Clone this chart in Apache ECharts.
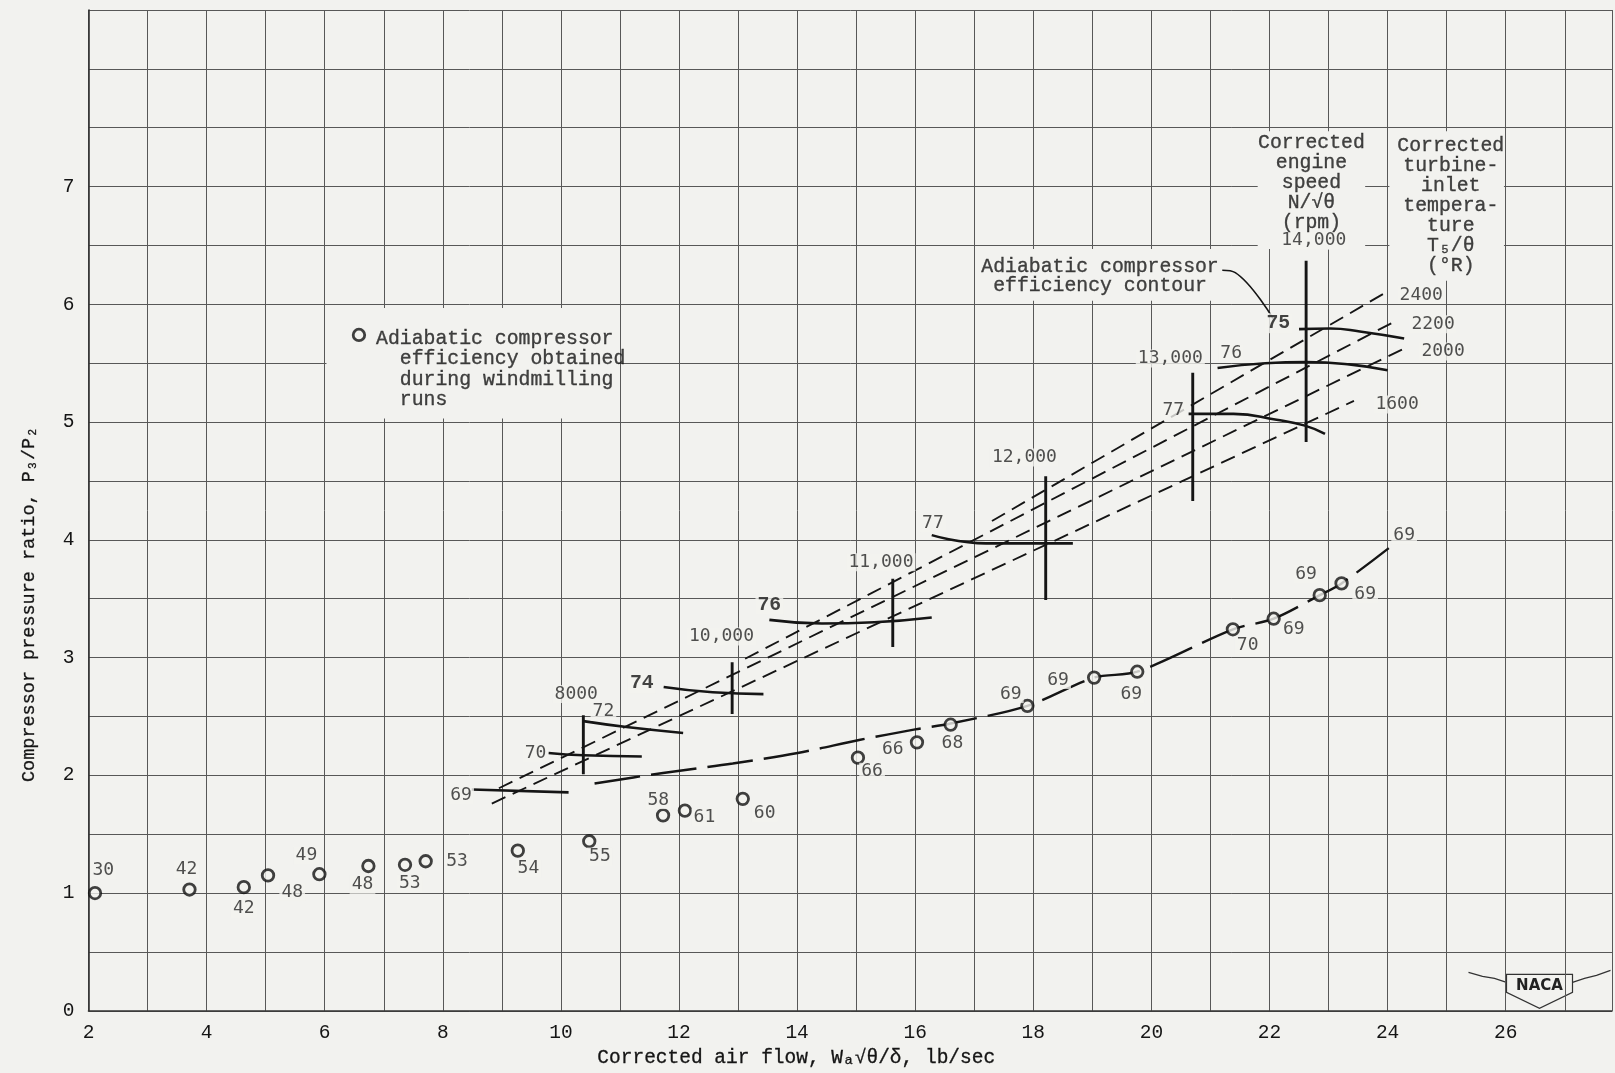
<!DOCTYPE html>
<html>
<head>
<meta charset="utf-8">
<script src="https://cdn.jsdelivr.net/npm/echarts@6/dist/echarts.min.js"></script>
<style>
html,body{margin:0;padding:0;background:#f2f2ef;}
#chart{width:1615px;height:1073px;}
</style>
</head>
<body>
<div id="chart"></div>
<script>
// ---------------- data ----------------
const xTickLabels = [2,4,6,8,10,12,14,16,18,20,22,24,26];
const yTickLabels = [0,1,2,3,4,5,6,7];

// windmilling runs: corrected air flow, pressure ratio, adiabatic efficiency
const windX   = [2.11,3.71,4.63,5.04,5.91,6.74,7.36,7.71,9.27,10.48,11.73,12.10,13.08,15.03,16.03,16.60,17.90,19.03,19.76,21.38,22.07,22.85,23.22];
const windY   = [1.00,1.03,1.05,1.15,1.16,1.23,1.24,1.27,1.36,1.44,1.66,1.70,1.80,2.15,2.28,2.43,2.59,2.83,2.88,3.24,3.33,3.53,3.63];
const windEff = [30,42,42,48,49,48,53,53,54,55,58,61,60,66,66,68,69,69,69,70,69,69,69];

// faired windmilling curve
const fitX = [10.57,11.73,12.91,14.01,15.05,16.00,16.60,17.90,19.03,19.76,21.38,22.07,22.85,23.22,24.02];
const fitY = [1.93,2.02,2.10,2.19,2.30,2.39,2.44,2.59,2.83,2.88,3.24,3.33,3.53,3.63,3.93];
const fitEndLabel = '69';

// corrected engine speed lines
const speedRpm  = ['8000','10,000','11,000','12,000','13,000','14,000'];
const speedX    = [10.38,12.90,15.62,18.21,20.70,22.62];
const speedLow  = [2.01,2.52,3.09,3.49,4.33,4.83];
const speedHigh = [2.51,2.96,3.67,4.54,5.42,6.37];

// adiabatic compressor efficiency contours
const contourEff = ['69','70','72','74','76','77','77','76','75'];
const contour69  = [[8.49,1.88],[10.13,1.855]];
const contour70  = [[9.79,2.19],[10.38,2.17],[11.37,2.16]];
const contour72  = [[10.38,2.46],[11.11,2.41],[12.07,2.36]];
const contour74  = [[11.74,2.75],[12.57,2.705],[13.43,2.69]];
const contour76a = [[13.53,3.32],[14.42,3.29],[15.31,3.30],[16.28,3.34]];
const contour77a = [[16.28,4.04],[17.20,3.97],[18.18,3.97],[18.67,3.97]];
const contour77b = [[20.63,5.07],[21.39,5.07],[22.12,5.02],[22.60,4.97],[22.94,4.90]];
const contour76b = [[21.12,5.46],[21.93,5.50],[22.62,5.51],[23.35,5.49],[24.00,5.44]];
const contour75  = [[22.50,5.79],[23.03,5.795],[23.53,5.77],[24.28,5.71]];

// corrected turbine-inlet temperature lines (deg R)
const tempLabels = ['2400','2200','2000','1600'];
const tempStart  = [[17.30,4.16],[13.12,2.99],[8.95,1.89],[8.83,1.76]];
const tempEnd    = [[24.00,6.11],[24.18,5.87],[24.34,5.64],[23.43,5.18]];

// leader from the contour note to the 75 contour
const leaderPts = [[21.20,6.29],[21.42,6.27],[22.06,5.88]];

// ---------------- layout (label anchors, paste-up patches) ----------------
const windLabelAt = [[2.25,1.19],[3.66,1.20],[4.63,0.87],[5.45,1.01],[5.69,1.32],[6.64,1.07],[7.44,1.08],[8.24,1.27],[9.45,1.21],[10.66,1.31],[11.65,1.79],[12.43,1.64],[13.45,1.68],[15.27,2.03],[15.62,2.22],[16.63,2.27],[17.62,2.69],[18.42,2.81],[19.66,2.69],[21.63,3.10],[22.41,3.24],[22.62,3.71],[23.62,3.54]];
const fitEndLabelAt = [24.28,4.04];
const speedLabelAt = [[10.26,2.69],[12.72,3.18],[15.42,3.81],[17.85,4.70],[20.32,5.54],[22.75,6.54]];
const contourLabelAt = [[8.31,1.83],[9.57,2.19],[10.72,2.54],[11.37,2.78],[13.53,3.45],[16.30,4.14],[20.37,5.10],[21.35,5.58],[22.15,5.84]];
const contourLabelBold = [false,false,false,true,true,false,false,false,true];
const tempLabelAt = [[24.57,6.08],[24.77,5.83],[24.94,5.60],[24.16,5.15]];
const noteTexts = [
  'Adiabatic compressor\nefficiency contour',
  'Corrected\nengine\nspeed\nN/\u221A\u03B8\n(rpm)',
  'Corrected\nturbine-\ninlet\ntempera-\nture\nT\u2085/\u03B8\n(\u00B0R)'
];
const noteAt = [[19.13,6.24],[22.71,7.035],[25.07,6.84]];
const legendSymbolAt = [6.58,5.74];
const legendText = 'Adiabatic compressor\n  efficiency obtained\n  during windmilling\n  runs';
const legendTextAt = [6.87,5.45];
const patches = [[6.03,5.03,10.97,5.97],[17.05,6.03,21.22,6.47],[21.8,6.47,23.62,7.47],[24.03,6.2,25.97,7.47]];

// ---------------- styles ----------------
const BG = '#f2f2ef';
const INK = '#151515';
const GRIDC = '#585858';
const TYPE = "'Liberation Mono','DejaVu Sans Mono',monospace";
const LEROY = "'DejaVu Sans Mono','Liberation Mono',monospace";
const typeStyle = {fontFamily: TYPE, fontSize: 19.8, color: INK, textBorderColor: INK, textBorderWidth: 0.35};
const numStyle = {fontFamily: LEROY, fontSize: 18, color: '#262626', backgroundColor: BG, padding: [0, 2]};

function textItem(pos, text, style) {
  return {value: pos, label: Object.assign({show: true, formatter: text, position: 'inside'}, style)};
}

const labelData = [];
windEff.forEach((e, i) => labelData.push(textItem(windLabelAt[i], String(e), numStyle)));
labelData.push(textItem(fitEndLabelAt, fitEndLabel, numStyle));
speedRpm.forEach((r, i) => labelData.push(textItem(speedLabelAt[i], r, numStyle)));
contourEff.forEach((e, i) => labelData.push(textItem(contourLabelAt[i], e,
  contourLabelBold[i] ? {fontFamily: TYPE, fontSize: 19.8, fontWeight: 'bold', color: INK, backgroundColor: BG, padding: [0, 2]} : numStyle)));
tempLabels.forEach((t, i) => labelData.push(textItem(tempLabelAt[i], t, numStyle)));
noteTexts.forEach((t, i) => labelData.push(textItem(noteAt[i], t, Object.assign({align: 'center', lineHeight: i === 0 ? 19 : 20}, typeStyle))));
labelData.push(textItem(legendTextAt, legendText, Object.assign({align: 'left', verticalAlign: 'middle', lineHeight: 20.5}, typeStyle)));

const lineSeries = (data, style, smooth) => ({
  type: 'line', data: data, symbol: 'none', smooth: smooth || false, z: 4,
  lineStyle: Object.assign({color: INK, width: 2.5}, style), silent: true
});

const series = [];
// paste-up patches that hide the grid behind the notes
series.push({
  type: 'custom', z: 1, silent: true,
  data: patches,
  encode: {x: [0, 2], y: [1, 3]},
  renderItem: (params, api) => {
    const p1 = api.coord([api.value(0), api.value(3)]);
    const p2 = api.coord([api.value(2), api.value(1)]);
    return {type: 'rect', shape: {x: p1[0], y: p1[1], width: p2[0] - p1[0], height: p2[1] - p1[1]}, style: {fill: BG}};
  }
});
// temperature lines
tempStart.forEach((s, i) => series.push(lineSeries([s, tempEnd[i]], {type: [15, 8], width: 1.9})));
// speed lines
speedX.forEach((x, i) => series.push(lineSeries([[x, speedLow[i]], [x, speedHigh[i]]], {width: 2.9})));
// efficiency contours
[contour69, contour70, contour72, contour74, contour76a, contour77a, contour77b, contour76b, contour75]
  .forEach(c => series.push(lineSeries(c, {width: 2.6}, 0.5)));
// faired windmilling curve
series.push(lineSeries(fitX.map((x, i) => [x, fitY[i]]), {type: [46, 11], width: 2.4}, 0.3));
// leader
series.push(lineSeries(leaderPts, {width: 1.6}, 0.4));
// windmilling points
series.push({
  type: 'scatter', z: 6, silent: true,
  data: windX.map((x, i) => [x, windY[i], windEff[i]]),
  symbol: 'circle', symbolSize: 11.5,
  itemStyle: {color: BG, borderColor: '#111', borderWidth: 2.8}
});
// legend symbol
series.push({
  type: 'scatter', z: 6, silent: true, data: [legendSymbolAt],
  symbol: 'circle', symbolSize: 11.5,
  itemStyle: {color: BG, borderColor: '#111', borderWidth: 2.8}
});
// all text annotations
series.push({
  type: 'scatter', z: 10, silent: true, data: labelData,
  symbol: 'circle', symbolSize: 1, itemStyle: {color: 'rgba(0,0,0,0)'}
});

const chart = echarts.init(document.getElementById('chart'), null, {renderer: 'canvas'});
chart.setOption({
  animation: false,
  backgroundColor: BG,
  grid: {left: 88.5, right: 0, top: 10, bottom: 56},
  xAxis: {
    type: 'value', min: 2, max: 27.8, interval: 1,
    axisLine: {show: true, lineStyle: {color: '#333', width: 1.6}},
    axisTick: {show: false},
    splitLine: {show: true, lineStyle: {color: GRIDC, width: 1}},
    axisLabel: {
      formatter: v => xTickLabels.includes(v) ? String(v) : '',
      margin: 12, fontFamily: TYPE, fontSize: 19.5, color: INK
    },
    name: 'Corrected air flow, W\u2090\u221A\u03B8/\u03B4, lb/sec',
    nameLocation: 'middle', nameGap: 30,
    nameTextStyle: {fontFamily: TYPE, fontSize: 19.5, color: INK, textBorderColor: INK, textBorderWidth: 0.3, padding: [0, 108, 0, 0]}
  },
  yAxis: {
    type: 'value', min: 0, max: 8.5, interval: 0.5,
    axisLine: {show: true, lineStyle: {color: '#333', width: 1.6}},
    axisTick: {show: false},
    splitLine: {show: true, lineStyle: {color: GRIDC, width: 1}},
    axisLabel: {
      formatter: v => yTickLabels.includes(v) ? String(v) : '',
      margin: 14, fontFamily: TYPE, fontSize: 19.5, color: INK
    },
    name: 'Compressor pressure ratio, P\u2083/P\u2082',
    nameLocation: 'middle', nameRotate: 90, nameGap: 50,
    nameTextStyle: {fontFamily: TYPE, fontSize: 18.5, color: INK, textBorderColor: INK, textBorderWidth: 0.3, padding: [0, 188, 0, 0]}
  },
  series: series,
  graphic: [{
    type: 'group', right: 2, bottom: 64, silent: true,
    children: [
      {type: 'polyline', shape: {points: [[0, 4], [14, 8], [26, 10], [38, 14]]}, style: {stroke: '#333', lineWidth: 1.2, fill: null}},
      {type: 'polyline', shape: {points: [[142, 2], [128, 7], [116, 10], [104, 14]]}, style: {stroke: '#333', lineWidth: 1.2, fill: null}},
      {type: 'polygon', shape: {points: [[38, 6], [104, 6], [104, 24], [71, 40], [38, 24]]}, style: {stroke: '#333', lineWidth: 1.2, fill: BG}},
      {type: 'text', x: 71, y: 18, style: {text: 'NACA', font: 'bold 15px "DejaVu Sans", sans-serif', fill: '#222', align: 'center', verticalAlign: 'middle'}}
    ]
  }]
});
</script>
</body>
</html>
